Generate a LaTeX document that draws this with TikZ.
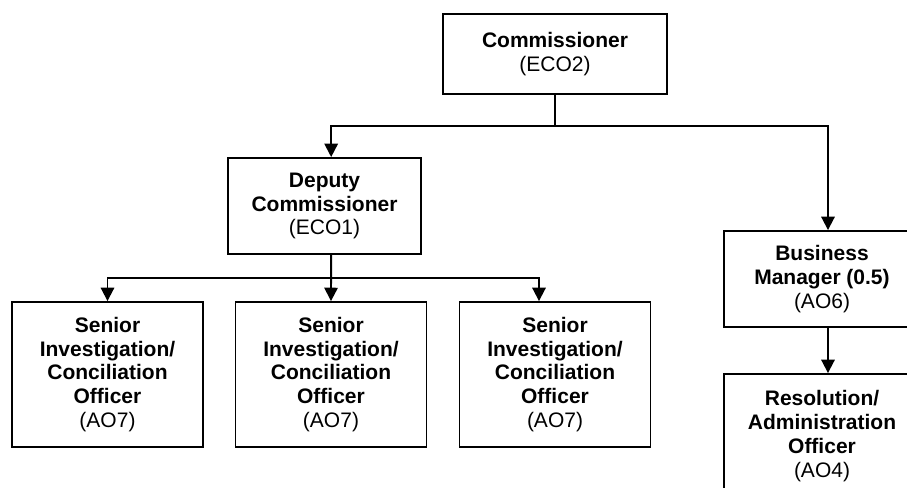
\documentclass[tikz,border=0pt]{standalone}
\usepackage{fontspec}
\setmainfont{Liberation Sans}
\usepackage{tikz}
\usetikzlibrary{positioning,arrows.meta}

\begin{document}
\begin{tikzpicture}[
    x=0.75pt, y=-0.75pt,
    post/.style  = {draw,line width=1.4pt,align=center,inner sep=0pt,
                    font=\fontsize{15.75}{17.8}\selectfont},
    arr/.style   = {line width=1.4pt,-{Triangle[width=10pt,length=10pt]}},
    link/.style  = {line width=1.4pt}
  ]
  \clip (0,0) rectangle (907,488);

  \node[post,minimum width=168pt,minimum height=60pt] (comm) at (555,54)
       {\textbf{Commissioner}\\(ECO2)};
  \node[post,minimum width=144.75pt,minimum height=72pt] (dep) at (324.5,206)
       {\textbf{Deputy}\\\textbf{Commissioner}\\(ECO1)};
  \node[post,minimum width=147pt,minimum height=72pt] (bm) at (822,279)
       {\textbf{Business}\\\textbf{Manager (0.5)}\\(AO6)};
  \node[post,minimum width=147pt,minimum height=93pt] (res) at (822,436)
       {\textbf{Resolution/}\\\textbf{Administration}\\\textbf{Officer}\\(AO4)};

  \foreach \i/\x in {1/107.5, 2/331, 3/555} {
    \node[post,minimum width=143.25pt,minimum height=108.75pt] (sen\i) at (\x,374.5)
         {\textbf{Senior}\\\textbf{Investigation/}\\\textbf{Conciliation}\\\textbf{Officer}\\(AO7)};
  }

  \coordinate (split1) at (555,126);
  \coordinate (split2) at (331,278);

  \draw[link] (comm.south) -- (split1);
  \draw[arr] (split1) -| ([xshift=5pt]dep.north);
  \draw[arr] (split1) -| ([xshift=4.5pt]bm.north);
  \draw[arr] ([xshift=5pt]dep.south) -- (sen2.north);
  \draw[arr] (split2) -| (sen1.north);
  \draw[arr] (split2) -| ([xshift=-12pt]sen3.north);
  \draw[arr] ([xshift=4.5pt]bm.south) -- ([xshift=4.5pt]res.north);

\end{tikzpicture}
\end{document}
